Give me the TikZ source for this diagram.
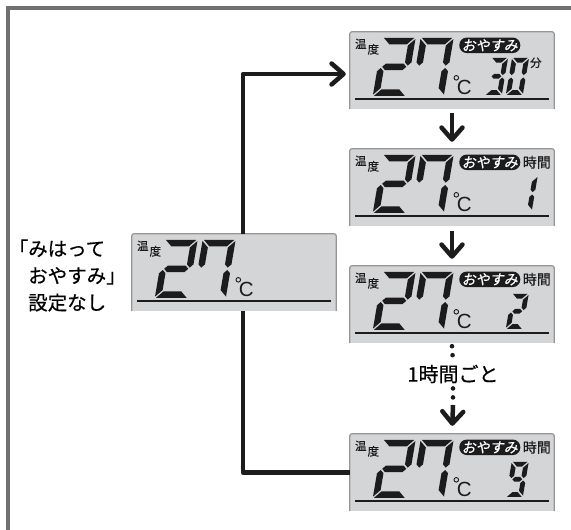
\documentclass[tikz,border=0pt]{standalone}
\usepackage{fontspec}
\usetikzlibrary{arrows.meta}
\newfontfamily\jp[FakeBold=0.5]{Noto Sans CJK JP}
\newfontfamily\jpsl[FakeSlant=0.18,FakeBold=0.5]{Noto Sans CJK JP}
\newfontfamily\unitfont{Liberation Sans}
\definecolor{LcdInk}{RGB}{28,28,28}
\definecolor{LcdFace}{RGB}{212,213,215}
\definecolor{LcdRim}{RGB}{150,150,150}
\definecolor{FrameGray}{RGB}{112,112,112}

% seven segment bars, cell \dW wide, \dH high, bars \dT thick
\def\dG{1.2}
\newcommand\sega{(\dG,\dH) -- ({\dW-\dG},\dH) -- ({\dW-\dT-\dG},{\dH-\dT}) -- ({\dT+\dG},{\dH-\dT}) -- cycle}
\newcommand\segd{(\dG,0) -- ({\dW-\dG},0) -- ({\dW-\dT-\dG},\dT) -- ({\dT+\dG},\dT) -- cycle}
\newcommand\segg{({\dG+\dT/2},{\dH/2}) -- ({\dT+\dG},{(\dH+\dT)/2}) -- ({\dW-\dT-\dG},{(\dH+\dT)/2}) -- ({\dW-\dG-\dT/2},{\dH/2}) -- ({\dW-\dT-\dG},{(\dH-\dT)/2}) -- ({\dT+\dG},{(\dH-\dT)/2}) -- cycle}
\newcommand\segf{(0,{\dH-\dG}) -- (\dT,{\dH-\dT-\dG}) -- (\dT,{(\dH+\dT)/2+\dG}) -- ({\dT/2},{\dH/2+\dG}) -- (0,{(\dH+\dT)/2+\dG}) -- cycle}
\newcommand\sege{(0,\dG) -- (\dT,{\dT+\dG}) -- (\dT,{(\dH-\dT)/2-\dG}) -- ({\dT/2},{\dH/2-\dG}) -- (0,{(\dH-\dT)/2-\dG}) -- cycle}
\newcommand\segb{(\dW,{\dH-\dG}) -- ({\dW-\dT},{\dH-\dT-\dG}) -- ({\dW-\dT},{(\dH+\dT)/2+\dG}) -- ({\dW-\dT/2},{\dH/2+\dG}) -- (\dW,{(\dH+\dT)/2+\dG}) -- cycle}
\newcommand\segc{(\dW,\dG) -- ({\dW-\dT},{\dT+\dG}) -- ({\dW-\dT},{(\dH-\dT)/2-\dG}) -- ({\dW-\dT/2},{\dH/2-\dG}) -- (\dW,{(\dH-\dT)/2-\dG}) -- cycle}
\newcommand\lcddigit[5]{%
  \begin{scope}[shift={#1},xslant=0.17,y=1pt]
    \def\dW{#2}\def\dH{#3}\def\dT{#4}
    \foreach \s in {#5}{\fill[LcdInk] \csname seg\s\endcsname;}
  \end{scope}}

\begin{document}
\begin{tikzpicture}[x=1pt,y=-1pt,
panel/.style={rectangle,fill=LcdFace,minimum width=204pt,minimum height=77pt,inner sep=0pt},
rim/.style={draw=LcdRim,line width=1.2pt,rounded corners=2pt},
rule/.style={draw=LcdInk,line width=1.8pt},
tiny/.style={font=\jp\fontsize{11.5}{11.5}\selectfont,inner sep=0pt,text=LcdInk},
tag/.style={font=\jp\fontsize{14}{14}\selectfont,inner sep=0pt,text=LcdInk},
pill/.style={fill=LcdInk,text=white,rounded corners=7.5pt,minimum width=61pt,minimum height=15.5pt,
inner sep=0pt,font=\jpsl\fontsize{14}{14}\selectfont},
unit/.style={font=\unitfont\fontsize{20.5}{20.5}\selectfont,inner sep=0pt,text=LcdInk},
note/.style={font=\jp\fontsize{19.5}{27}\selectfont,inner sep=0pt,align=left},
conn/.style={draw=LcdInk,line width=4.5pt,line join=round},
arrow/.style={-{Straight Barb[length=12pt,width=21pt,round]},draw=LcdInk,line width=4.5pt},
dots/.style={draw=LcdInk,line width=4.6pt,line cap=round,dash pattern=on 0pt off 9pt},
lcd/.pic={
  \node[tiny] (-t1) at (11,12) {温};
  \node[tiny] (-t2) at (23.5,17.5) {度};
  \lcddigit{(23,64)}{33}{58}{6.5}{a,b,g,e,d}
  \lcddigit{(61,64)}{33}{58}{6.5}{a,b,c,f}
  \draw[LcdInk,line width=0.9pt] (106.5,46) circle (2.3);
  \node[unit] (-deg) at (114.5,56) {C};
  \draw[rule] (5,67) -- (199,67);
},
sleep/.pic={
  \node[pill] (-pill) at (140,13.5) {おやすみ};
}
]
\useasboundingbox (0,0) rectangle (571,530);
\draw[draw=FrameGray,line width=4pt] (8,8) rectangle (640,600);

% panels
\node[panel] (c0) at (234,272.5) {};
\node[panel] (p1) at (452,70.5) {};
\node[panel] (p2) at (452,187.5) {};
\node[panel] (p3) at (452,304.5) {};
\node[panel] (p4) at (452,472.5) {};
\foreach \p in {c0,p1,p2,p3,p4}
  \draw[rim] (\p.south west) -- (\p.north west) -- (\p.north east) -- (\p.south east);

\pic (d0) at (c0.north west) {lcd};
\foreach \p in {1,...,4} {\pic (d\p) at (p\p.north west) {lcd}; \pic (s\p) at (p\p.north west) {sleep};}

% timer field
\node[tiny] (min) at ([shift={(186,31)}]p1.north west) {分};
\foreach \p in {2,3,4} \node[tag] (hr\p) at ([shift={(187,13.5)}]p\p.north west) {時間};
\lcddigit{([shift={(135,63)}]p1.north west)}{17}{37}{4.8}{a,b,g,c,d}
\lcddigit{([shift={(156,63)}]p1.north west)}{17}{37}{4.8}{a,b,c,d,e,f}
\lcddigit{([shift={(165,62)}]p2.north west)}{17}{35}{4.8}{b,c}
\lcddigit{([shift={(156,63)}]p3.north west)}{17}{35}{4.8}{a,b,g,e,d}
\lcddigit{([shift={(156,63)}]p4.north west)}{17}{35}{4.8}{a,b,c,d,f,g}

% texts
\node[note,anchor=west] (intro) at (28,275.5) {\llap{「}みはって\\おやすみ」\\設定なし};
\node[font=\jp\fontsize{20}{20}\selectfont,inner sep=0pt] (every) at (453,374) {1時間ごと};

% connectors
\draw[conn,arrow,shorten >=4pt] ([xshift=9pt]c0.north) |- ([yshift=-3.5pt]p1.west);
\draw[conn] ([xshift=9pt]c0.south) |- (p4.west);
\draw[arrow,shorten <=4pt,shorten >=7pt] (p1.south) -- (p2.north);
\draw[arrow,shorten <=5pt,shorten >=7pt] (p2.south) -- (p3.north);
\draw[dots] ([yshift=-3pt]p3.south) -- ([yshift=2pt]every.north);
\coordinate (tail) at ([yshift=-31pt]every.center);
\draw[dots] ([yshift=-5pt]every.south) -- (tail);
\draw[arrow,shorten >=8pt] (tail) -- (p4.north);
\end{tikzpicture}
\end{document}
